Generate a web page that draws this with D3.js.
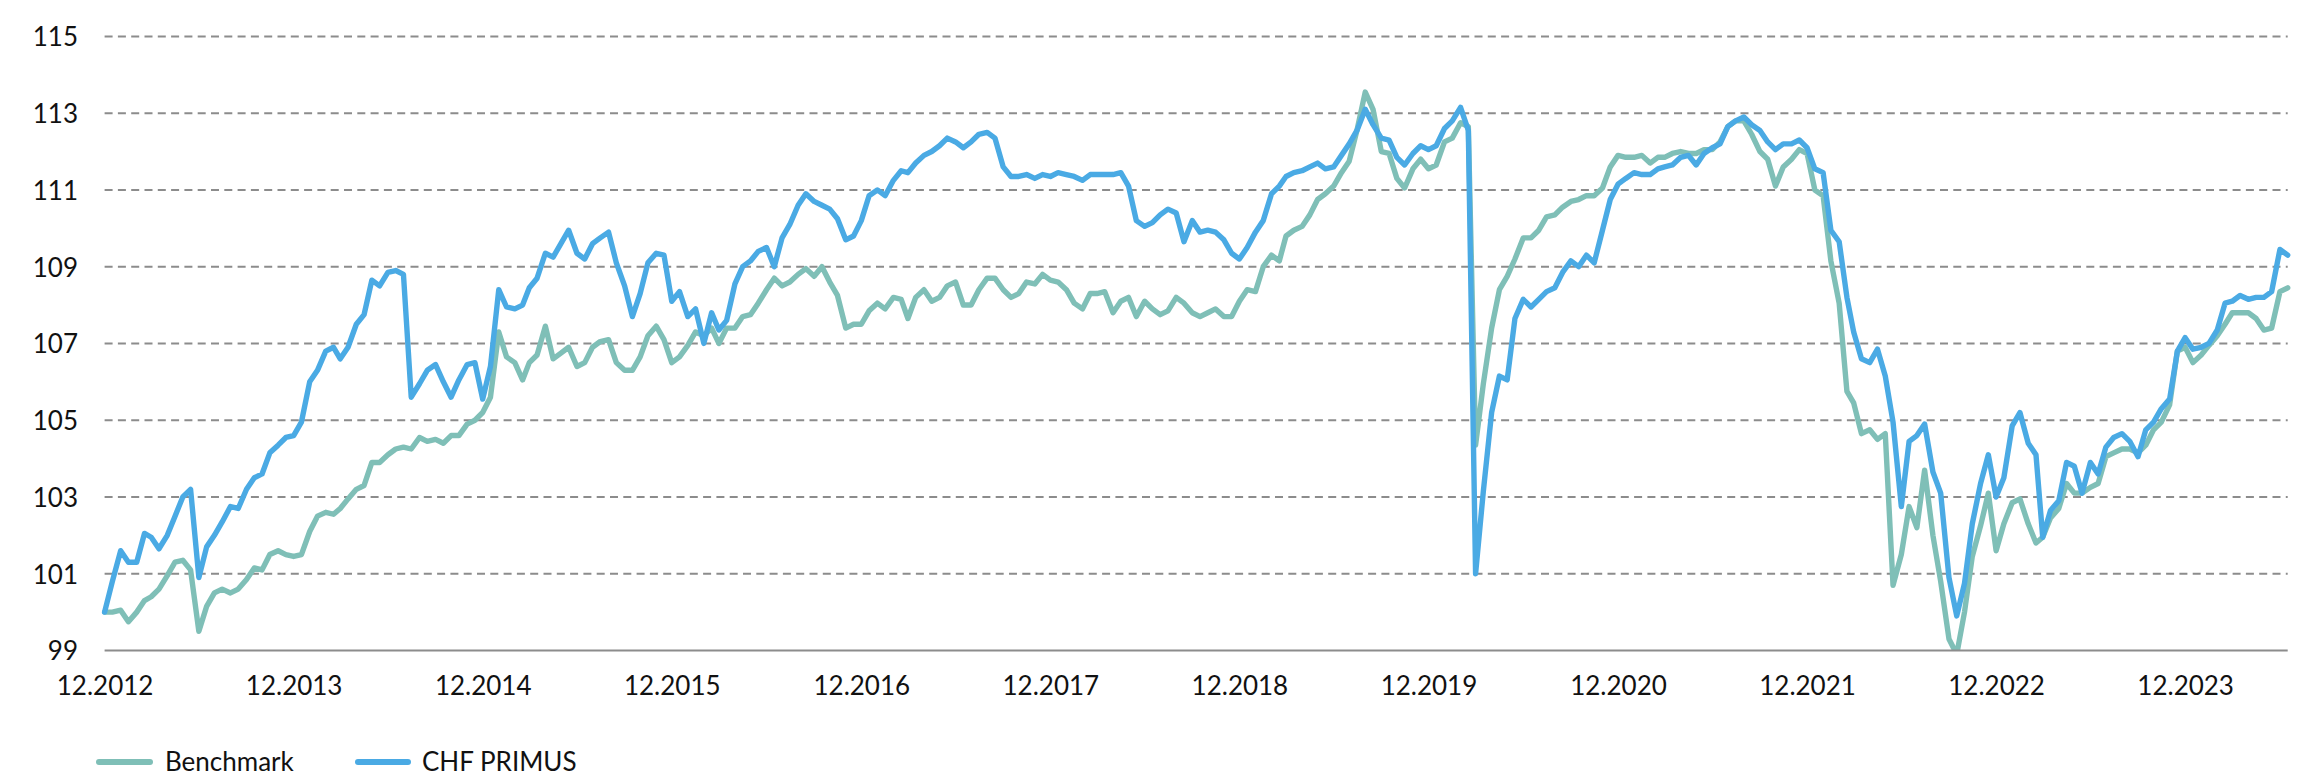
<!DOCTYPE html>
<html>
<head>
<meta charset="utf-8">
<script src="https://cdn.jsdelivr.net/npm/d3@7"></script>
<style>
  html, body { margin: 0; padding: 0; background: #fff; }
  svg { display: block; }
  text { font-family: Lato, "Open Sans", sans-serif; fill: #111; }
</style>
</head>
<body>
<svg id="chart" width="2306" height="776"></svg>
<script>
// ---- data (semi-monthly observations starting 12.2012) ----
const startMonth = "12.2012";
const seriesNames = ["Benchmark", "CHF PRIMUS"];
const yTicks = [99, 101, 103, 105, 107, 109, 111, 113, 115];
const xTickLabels = ["12.2012","12.2013","12.2014","12.2015","12.2016","12.2017","12.2018","12.2019","12.2020","12.2021","12.2022","12.2023"];

const chfPrimus = [
100.0,100.8,101.6,101.3,101.3,102.05,101.95,101.65,102.0,102.5,103.0,103.2,100.9,101.7,102.0,102.35,102.75,102.7,103.2,103.5,
103.6,104.15,104.35,104.55,104.6,104.95,106.0,106.3,106.8,106.9,106.6,106.9,107.5,107.75,108.65,108.5,108.85,108.9,108.8,105.6,
105.95,106.3,106.45,106.0,105.6,106.05,106.45,106.5,105.55,106.4,108.4,107.95,107.9,108.0,108.45,108.7,109.35,109.25,109.6,109.95,
109.35,109.2,109.6,109.75,109.9,109.1,108.5,107.7,108.3,109.1,
109.35,109.3,108.1,108.35,107.7,107.9,107.0,107.8,107.35,107.6,108.55,109.0,109.15,109.4,109.5,109.0,109.75,110.1,110.6,110.9,
110.7,110.6,110.5,110.25,109.7,109.8,110.2,110.85,111.0,110.85,111.25,111.5,111.45,111.7,111.9,112.0,112.15,112.35,112.25,112.1,
112.25,112.45,112.5,112.35,111.6,111.35,111.35,111.4,111.3,111.4,111.35,111.45,111.4,111.35,111.25,111.4,111.4,111.4,111.4,111.45,
111.1,110.2,110.05,110.15,110.35,110.5,110.4,109.65,110.2,
109.9,109.95,109.9,109.7,109.35,109.2,109.5,109.9,110.2,110.9,111.1,111.35,111.45,111.5,111.6,111.7,111.55,111.6,111.9,112.2,
112.55,113.1,112.7,112.35,112.3,111.85,111.65,111.95,112.15,112.05,112.15,112.6,112.8,113.15,112.55,101.0,103.15,105.2,106.15,106.05,
107.65,108.15,107.95,108.15,108.35,108.45,108.85,109.15,109.0,109.3,109.1,109.95,110.75,111.15,111.3,111.45,111.4,111.4,111.55,111.6,
111.65,111.85,111.9,111.65,111.95,112.1,112.2,112.65,112.8,
112.9,112.7,112.55,112.25,112.05,112.2,112.2,112.3,112.1,111.55,111.45,109.95,109.65,108.2,107.3,106.6,106.5,106.85,106.15,104.95,
102.75,104.45,104.6,104.9,103.65,103.1,100.9,99.9,100.75,102.3,103.35,104.1,103.0,103.5,104.85,105.2,104.4,104.1,101.95,102.65,
102.9,103.9,103.8,103.1,103.9,103.6,104.3,104.55,104.65,104.45,104.05,104.75,104.95,105.3,105.55,106.8,107.15,106.85,106.9,107.0,
107.35,108.05,108.1,108.25,108.15,108.2,108.2,108.35,109.45,109.3
];

const benchmark = [
100.0,100.0,100.05,99.75,100.0,100.3,100.4,100.6,100.95,101.3,101.35,101.1,99.5,100.15,100.5,100.6,100.5,100.6,100.85,101.15,
101.1,101.5,101.6,101.5,101.45,101.5,102.1,102.5,102.6,102.55,102.7,102.95,103.2,103.3,103.9,103.9,104.1,104.25,104.3,104.25,
104.55,104.45,104.5,104.4,104.6,104.6,104.9,105.0,105.2,105.6,107.3,106.65,106.5,106.05,106.5,106.7,107.45,106.6,106.75,106.9,
106.4,106.5,106.9,107.05,107.1,106.5,106.3,106.3,106.65,107.2,
107.45,107.1,106.5,106.65,106.95,107.3,107.2,107.4,107.0,107.4,107.4,107.7,107.75,108.05,108.4,108.7,108.5,108.6,108.8,108.95,
108.75,109.0,108.6,108.25,107.4,107.5,107.5,107.85,108.05,107.9,108.2,108.15,107.65,108.2,108.4,108.1,108.2,108.5,108.6,108.0,
108.0,108.4,108.7,108.7,108.4,108.2,108.3,108.6,108.55,108.8,108.65,108.6,108.4,108.05,107.9,108.3,108.3,108.35,107.8,108.1,
108.2,107.7,108.1,107.9,107.75,107.85,108.2,108.05,107.8,
107.7,107.8,107.9,107.7,107.7,108.1,108.4,108.35,109.0,109.3,109.15,109.8,109.95,110.05,110.35,110.75,110.9,111.1,111.45,111.75,
112.55,113.55,113.1,112.0,111.95,111.3,111.05,111.55,111.8,111.55,111.65,112.25,112.35,112.75,112.65,104.35,105.95,107.4,108.4,108.75,
109.2,109.75,109.75,109.95,110.3,110.35,110.55,110.7,110.75,110.85,110.85,111.05,111.6,111.9,111.85,111.85,111.9,111.7,111.85,111.85,
111.95,112.0,111.95,111.95,112.05,112.05,112.25,112.65,112.8,
112.8,112.45,112.0,111.8,111.1,111.6,111.8,112.05,111.95,111.0,110.85,109.15,108.05,105.75,105.45,104.65,104.75,104.5,104.65,100.7,
101.5,102.75,102.2,103.7,102.0,100.8,99.3,98.9,100.0,101.45,102.25,103.1,101.6,102.3,102.85,102.95,102.3,101.8,101.95,102.45,
102.7,103.35,103.1,103.1,103.25,103.35,104.05,104.15,104.25,104.25,104.15,104.35,104.75,104.95,105.4,106.8,106.9,106.5,106.7,106.95,
107.2,107.5,107.8,107.8,107.8,107.65,107.35,107.4,108.35,108.45
];

// ---- layout / style ----
const colors = { "Benchmark": "#7fbfb7", "CHF PRIMUS": "#4aaae4" };
const plot = { left: 104.6, right: 2287.7, top: 36.4, bottom: 650.5 };
const fontSize = 26;
const lineWidth = 5.4;

const parseMonth = d3.timeParse("%m.%Y");
const start = parseMonth(startMonth);
// semi-monthly observation dates: 1st and 16th of each month
const dateAt = k => new Date(start.getFullYear(), start.getMonth() + Math.floor(k / 2), k % 2 ? 16 : 1);
const n = chfPrimus.length;
const dates = d3.range(n).map(dateAt);

const svg = d3.select("#chart");

const x = d3.scaleTime().domain([dates[0], dates[n - 1]]).range([plot.left, plot.right]);
const y = d3.scaleLinear().domain([99, 115]).range([plot.bottom, plot.top]);

// gridlines
const gridG = svg.append("g");
gridG.selectAll("line.grid")
  .data(yTicks.filter(v => v !== 99))
  .join("line")
  .attr("x1", plot.left).attr("x2", plot.right)
  .attr("y1", d => y(d)).attr("y2", d => y(d))
  .attr("stroke", "#8c8c8c").attr("stroke-width", 2)
  .attr("stroke-dasharray", "8,5.3");

// y axis labels
const yAxis = d3.axisLeft(y).tickValues(yTicks).tickSize(0).tickPadding(0).tickFormat(d3.format("d"));
const yG = svg.append("g").attr("transform", `translate(${78},0)`).call(yAxis);
yG.select(".domain").remove();
yG.selectAll("text").attr("font-size", fontSize).attr("font-family", "Lato").attr("fill", "#111").attr("dy", "0.36em");

// clip
svg.append("defs").append("clipPath").attr("id", "plotclip")
  .append("rect").attr("x", 0).attr("y", 0).attr("width", 2306).attr("height", plot.bottom + 0.5);

const line = d3.line().x((d, i) => x(dates[i])).y(d => y(d)).curve(d3.curveLinear);

const linesG = svg.append("g").attr("clip-path", "url(#plotclip)");
linesG.append("path").datum(benchmark)
  .attr("d", line).attr("fill", "none")
  .attr("stroke", colors["Benchmark"]).attr("stroke-width", lineWidth)
  .attr("stroke-linejoin", "round").attr("stroke-linecap", "round");
linesG.append("path").datum(chfPrimus)
  .attr("d", line).attr("fill", "none")
  .attr("stroke", colors["CHF PRIMUS"]).attr("stroke-width", lineWidth)
  .attr("stroke-linejoin", "round").attr("stroke-linecap", "round");

// x axis baseline
svg.append("line")
  .attr("x1", plot.left).attr("x2", plot.right)
  .attr("y1", y(99)).attr("y2", y(99))
  .attr("stroke", "#8c8c8c").attr("stroke-width", 2.2);

// x axis labels
const xTicks = xTickLabels.map(parseMonth);
const xAxis = d3.axisBottom(x).tickValues(xTicks).tickSize(0).tickPadding(0).tickFormat(d3.timeFormat("%m.%Y"));
const xG = svg.append("g").attr("transform", `translate(0,${676})`).call(xAxis);
xG.select(".domain").remove();
xG.selectAll("text").attr("font-size", fontSize).attr("font-family", "Lato").attr("fill", "#111").attr("dy", "0.72em");

// legend
const legend = [
  { name: "Benchmark", x1: 99, x2: 150, tx: 165 },
  { name: "CHF PRIMUS", x1: 358, x2: 408, tx: 422 }
];
const lg = svg.append("g");
legend.forEach(l => {
  lg.append("line").attr("x1", l.x1).attr("x2", l.x2).attr("y1", 762).attr("y2", 762)
    .attr("stroke", colors[l.name]).attr("stroke-width", 6).attr("stroke-linecap", "round");
  lg.append("text").attr("x", l.tx).attr("y", 771).attr("font-size", fontSize).text(l.name);
});
</script>
</body>
</html>
